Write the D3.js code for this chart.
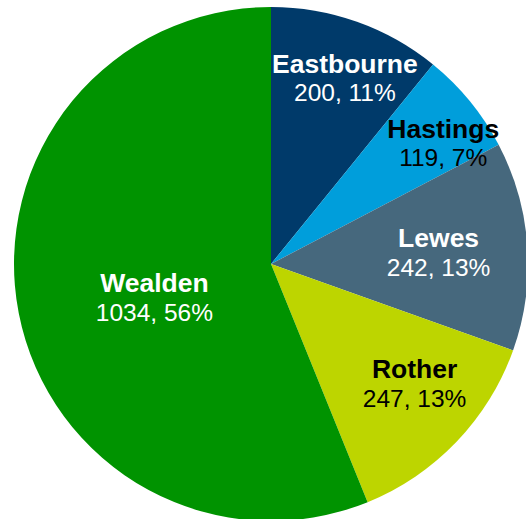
<!DOCTYPE html>
<html>
<head>
<meta charset="utf-8">
<script src="https://cdn.jsdelivr.net/npm/d3@7"></script>
<style>
html,body{margin:0;padding:0;background:#fff;}
svg{display:block;}
</style>
</head>
<body>
<svg id="chart" width="526" height="519"></svg>
<script>
const categories = ["Eastbourne", "Hastings", "Lewes", "Rother", "Wealden"];
const values = [200, 119, 242, 247, 1034];
const percentLabels = ["11%", "7%", "13%", "13%", "56%"];
const colors = ["#003a6a", "#009edb", "#46687d", "#bdd500", "#009300"];
const textColors = ["#ffffff", "#000000", "#ffffff", "#000000", "#ffffff"];
// label nudges relative to arc centroid (layout only)
const labelOffsets = [[12, -13], [29, -5], [-17, 0], [10, -10], [65, -3]];

const width = 526, height = 519;
const cx = 271, cy = 264, radius = 257;

const svg = d3.select("#chart");
const g = svg.append("g").attr("transform", `translate(${cx},${cy})`);

const data = categories.map((c, i) => ({name: c, value: values[i], pct: percentLabels[i], i}));

const pie = d3.pie().value(d => d.value).sort(null);
const arc = d3.arc().innerRadius(0).outerRadius(radius);
const labelArc = d3.arc().innerRadius(radius * 0.72).outerRadius(radius * 0.72);

const arcs = pie(data);

g.selectAll("path.slice").data(arcs).join("path")
  .attr("class", "slice")
  .attr("d", arc)
  .attr("fill", d => colors[d.data.i]);

const labels = g.selectAll("g.label").data(arcs).join("g")
  .attr("class", "label")
  .attr("transform", d => {
    const [x, y] = labelArc.centroid(d);
    const o = labelOffsets[d.data.i];
    return `translate(${x + o[0]},${y + o[1]})`;
  });

labels.append("text")
  .attr("text-anchor", "middle")
  .attr("y", -4)
  .attr("font-family", "Liberation Sans, Arial, sans-serif")
  .attr("font-weight", "bold")
  .attr("font-size", 26.5)
  .attr("fill", d => textColors[d.data.i])
  .text(d => d.data.name);

labels.append("text")
  .attr("text-anchor", "middle")
  .attr("y", 24.5)
  .attr("font-family", "Liberation Sans, Arial, sans-serif")
  .attr("font-size", 24.5)
  .attr("fill", d => textColors[d.data.i])
  .text(d => `${d.data.value}, ${d.data.pct}`);
</script>
</body>
</html>
